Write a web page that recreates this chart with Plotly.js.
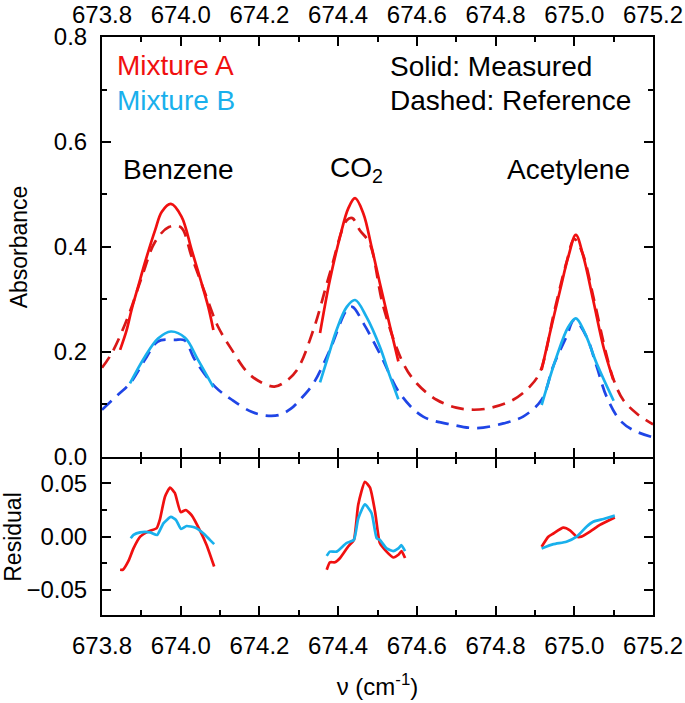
<!DOCTYPE html>
<html>
<head>
<meta charset="utf-8">
<script src="https://cdn.plot.ly/plotly-3.0.1.min.js"></script>
<style>html,body{margin:0;padding:0;background:#fff;}#chart{width:685px;height:703px;}</style>
</head>
<body>
<div id="chart"></div>
<script>
// ---- Absorbance: measured (solid) ----
const benzA_x = [673.846, 673.862, 673.875, 673.892, 673.909, 673.935, 673.952, 673.975, 674.002, 674.028, 674.053, 674.07, 674.083];
const benzA_y = [0.204, 0.24, 0.28, 0.325, 0.37, 0.432, 0.467, 0.482, 0.458, 0.394, 0.331, 0.286, 0.242];
const co2A_x = [674.354, 674.379, 674.405, 674.426, 674.443, 674.464, 674.485, 674.506, 674.532, 674.553];
const co2A_y = [0.236, 0.337, 0.42, 0.474, 0.493, 0.464, 0.40, 0.331, 0.248, 0.182];
const acetA_x = [674.917, 674.938, 674.964, 674.985, 675.004, 675.023, 675.048, 675.074, 675.099];
const acetA_y = [0.166, 0.236, 0.318, 0.382, 0.423, 0.382, 0.299, 0.21, 0.147];

const benzB_x = [673.871, 673.909, 673.943, 673.975, 674.011, 674.044, 674.083];
const benzB_y = [0.14, 0.191, 0.226, 0.239, 0.227, 0.185, 0.133];
const co2B_x = [674.354, 674.376, 674.396, 674.422, 674.443, 674.472, 674.506, 674.532, 674.553];
const co2B_y = [0.142, 0.195, 0.242, 0.286, 0.299, 0.267, 0.21, 0.153, 0.11];
const acetB_x = [674.917, 674.955, 674.985, 675.004, 675.027, 675.057, 675.1];
const acetB_y = [0.099, 0.191, 0.248, 0.264, 0.236, 0.178, 0.107];

// ---- Absorbance: reference (dashed) ----
const refA_x = [673.8, 673.825, 673.866, 673.9, 673.935, 673.97, 674.0, 674.028, 674.062, 674.095, 674.13, 674.171, 674.205, 674.238, 674.265, 674.295, 674.337, 674.379, 674.422, 674.436, 674.455, 674.48, 674.515, 674.565, 674.6, 674.65, 674.7, 674.745, 674.79, 674.845, 674.887, 674.913, 674.95, 674.98, 675.0, 675.02, 675.05, 675.08, 675.1, 675.124, 675.16, 675.2];
const refA_y = [0.17, 0.198, 0.267, 0.34, 0.41, 0.438, 0.438, 0.381, 0.312, 0.248, 0.204, 0.16, 0.142, 0.134, 0.143, 0.165, 0.242, 0.35, 0.451, 0.455, 0.432, 0.407, 0.286, 0.179, 0.14, 0.109, 0.094, 0.09, 0.094, 0.109, 0.134, 0.162, 0.28, 0.37, 0.415, 0.39, 0.3, 0.2, 0.147, 0.109, 0.082, 0.062];
const refB_x = [673.8, 673.84, 673.871, 673.909, 673.942, 673.985, 674.01, 674.036, 674.087, 674.13, 674.18, 674.215, 674.25, 674.28, 674.303, 674.337, 674.379, 674.422, 674.436, 674.464, 674.506, 674.557, 674.616, 674.693, 674.752, 674.82, 674.87, 674.917, 674.946, 674.98, 675.0, 675.031, 675.057, 675.082, 675.116, 675.15, 675.2];
const refB_y = [0.09, 0.118, 0.14, 0.185, 0.22, 0.223, 0.222, 0.185, 0.134, 0.109, 0.086, 0.079, 0.08, 0.092, 0.109, 0.14, 0.204, 0.28, 0.286, 0.255, 0.197, 0.121, 0.077, 0.061, 0.055, 0.064, 0.077, 0.109, 0.172, 0.229, 0.261, 0.229, 0.172, 0.115, 0.07, 0.051, 0.0375];

// ---- Residuals ----
const resBenzA_x = [673.846, 673.853, 673.867, 673.88, 673.897, 673.918, 673.939, 673.947, 673.96, 673.973, 673.985, 674.0, 674.013, 674.028, 674.05, 674.066, 674.085];
const resBenzA_y = [-0.031, -0.031, -0.023, -0.011, 0.0, 0.005, 0.008, 0.016, 0.0375, 0.046, 0.041, 0.023, 0.025, 0.02, 0.005, -0.008, -0.028];
const resBenzB_x = [673.873, 673.88, 673.897, 673.922, 673.94, 673.956, 673.975, 673.988, 674.001, 674.015, 674.036, 674.058, 674.074, 674.085];
const resBenzB_y = [-0.0015, 0.0016, 0.004, 0.004, 0.0016, 0.0125, 0.0185, 0.0157, 0.0072, 0.01, 0.0085, 0.003, -0.003, -0.007];
const resCo2A_x = [674.371, 674.379, 674.392, 674.405, 674.426, 674.44, 674.451, 674.468, 674.481, 674.494, 674.506, 674.523, 674.54, 674.553, 674.561, 674.57];
const resCo2A_y = [-0.031, -0.024, -0.024, -0.02, -0.009, -0.003, 0.03, 0.0515, 0.046, 0.023, -0.006, -0.014, -0.0195, -0.017, -0.0135, -0.02];
const resCo2B_x = [674.371, 674.379, 674.396, 674.421, 674.44, 674.451, 674.468, 674.485, 674.498, 674.506, 674.523, 674.54, 674.553, 674.561, 674.57];
const resCo2B_y = [-0.018, -0.014, -0.014, -0.006, -0.003, 0.017, 0.0303, 0.022, -0.0015, -0.003, -0.011, -0.0135, -0.011, -0.008, -0.0135];
const resAcetA_x = [674.917, 674.934, 674.947, 674.972, 674.989, 675.006, 675.018, 675.04, 675.065, 675.103];
const resAcetA_y = [-0.0094, 0.0, 0.003, 0.0085, 0.006, 0.0, 0.0, 0.0047, 0.011, 0.018];
const resAcetB_x = [674.917, 674.947, 674.98, 675.006, 675.031, 675.048, 675.074, 675.103];
const resAcetB_y = [-0.011, -0.007, -0.0047, 0.0, 0.0094, 0.014, 0.0166, 0.0197];

const xTicks = [673.8, 674.0, 674.2, 674.4, 674.6, 674.8, 675.0, 675.2];
const xTickLabels = ['673.8', '674.0', '674.2', '674.4', '674.6', '674.8', '675.0', '675.2'];

const RED = '#f01010', RED_D = '#d81818', CYAN = '#19b0ec', BLUE = '#1f45e6';
const FONT = 'Liberation Sans, Arial, sans-serif';

function solid(x, y, c, xa, ya, smooth) {
  return {x: x, y: y, type: 'scatter', mode: 'lines', xaxis: xa, yaxis: ya, showlegend: false, hoverinfo: 'skip',
          line: {color: c, width: 2.7, shape: 'spline', smoothing: smooth}};
}
function dashed(x, y, c) {
  return {x: x, y: y, type: 'scatter', mode: 'lines', xaxis: 'x2', yaxis: 'y', showlegend: false, hoverinfo: 'skip',
          line: {color: c, width: 2.7, dash: '13px,8px', shape: 'spline', smoothing: 1}};
}

const data = [
  dashed(refA_x, refA_y, RED_D),
  dashed(refB_x, refB_y, BLUE),
  solid(benzA_x, benzA_y, RED, 'x2', 'y', 1),
  solid(co2A_x, co2A_y, RED, 'x2', 'y', 1),
  solid(acetA_x, acetA_y, RED, 'x2', 'y', 1),
  solid(benzB_x, benzB_y, CYAN, 'x2', 'y', 1),
  solid(co2B_x, co2B_y, CYAN, 'x2', 'y', 1),
  solid(acetB_x, acetB_y, CYAN, 'x2', 'y', 1),
  solid(resBenzA_x, resBenzA_y, RED, 'x', 'y2', 0.5),
  solid(resCo2A_x, resCo2A_y, RED, 'x', 'y2', 0.5),
  solid(resAcetA_x, resAcetA_y, RED, 'x', 'y2', 0.5),
  solid(resBenzB_x, resBenzB_y, CYAN, 'x', 'y2', 0.5),
  solid(resCo2B_x, resCo2B_y, CYAN, 'x', 'y2', 0.5),
  solid(resAcetB_x, resAcetB_y, CYAN, 'x', 'y2', 0.5)
];

const tickFont = {family: FONT, size: 24, color: '#000'};
const axCommon = {
  showline: true, linecolor: '#000', linewidth: 2, mirror: 'ticks',
  ticks: 'inside', ticklen: 9, tickwidth: 2, tickcolor: '#000',
  showgrid: false, zeroline: false, tickfont: tickFont, ticklabelstandoff: 8
};

const layout = {
  width: 685, height: 703,
  margin: {l: 102, r: 32, t: 37, b: 88},
  paper_bgcolor: '#fff', plot_bgcolor: '#fff',
  font: {family: FONT, color: '#000'},
  showlegend: false,
  xaxis: Object.assign({}, axCommon, {
    anchor: 'y2', side: 'bottom', range: [673.8, 675.2],
    tickmode: 'array', tickvals: xTicks, ticktext: xTickLabels,
    minor: {dtick: 0.1, tick0: 673.8, ticks: 'inside', ticklen: 5, tickwidth: 2, tickcolor: '#000'},
    title: {text: 'ν (cm<sup>-1</sup>)', font: {family: FONT, size: 24}, standoff: 20}
  }),
  xaxis2: Object.assign({}, axCommon, {
    anchor: 'y', side: 'top', matches: 'x', range: [673.8, 675.2], ticklabelstandoff: 2,
    tickmode: 'array', tickvals: xTicks, ticktext: xTickLabels,
    minor: {dtick: 0.1, tick0: 673.8, ticks: 'inside', ticklen: 5, tickwidth: 2, tickcolor: '#000'}
  }),
  yaxis: Object.assign({}, axCommon, {
    domain: [0.2734, 1], anchor: 'x2', range: [0, 0.8], dtick: 0.2, tick0: 0, tickformat: '.1f',
    minor: {dtick: 0.1, ticks: 'inside', ticklen: 5, tickwidth: 2, tickcolor: '#000'},
    title: {text: 'Absorbance', font: {family: FONT, size: 23}, standoff: 20}
  }),
  yaxis2: Object.assign({}, axCommon, {
    domain: [0, 0.2699], anchor: 'x', range: [-0.0734, 0.0728], dtick: 0.05, tick0: 0, tickformat: '.2f',
    minor: {dtick: 0.025, ticks: 'inside', ticklen: 5, tickwidth: 2, tickcolor: '#000'},
    title: {text: 'Residual', font: {family: FONT, size: 23}, standoff: 1}
  }),
  annotations: [
    {text: 'Mixture A', xref: 'paper', yref: 'paper', x: 0.0236, y: 0.9515, xanchor: 'left', yanchor: 'middle', showarrow: false, font: {family: FONT, size: 28, color: RED}},
    {text: 'Mixture B', xref: 'paper', yref: 'paper', x: 0.0236, y: 0.8910, xanchor: 'left', yanchor: 'middle', showarrow: false, font: {family: FONT, size: 28, color: CYAN}},
    {text: 'Solid: Measured', xref: 'paper', yref: 'paper', x: 0.519, y: 0.9498, xanchor: 'left', yanchor: 'middle', showarrow: false, font: {family: FONT, size: 28, color: '#000'}},
    {text: 'Dashed: Reference', xref: 'paper', yref: 'paper', x: 0.519, y: 0.8910, xanchor: 'left', yanchor: 'middle', showarrow: false, font: {family: FONT, size: 28, color: '#000'}},
    {text: 'Benzene', xref: 'paper', yref: 'paper', x: 0.138, y: 0.7699, xanchor: 'center', yanchor: 'middle', showarrow: false, font: {family: FONT, size: 28, color: '#000'}},
    {text: 'CO<sub>2</sub>', xref: 'paper', yref: 'paper', x: 0.461, y: 0.7699, xanchor: 'center', yanchor: 'middle', showarrow: false, font: {family: FONT, size: 28, color: '#000'}},
    {text: 'Acetylene', xref: 'paper', yref: 'paper', x: 0.8475, y: 0.7699, xanchor: 'center', yanchor: 'middle', showarrow: false, font: {family: FONT, size: 28, color: '#000'}}
  ]
};

Plotly.newPlot('chart', data, layout, {displayModeBar: false, staticPlot: true});
</script>
</body>
</html>
